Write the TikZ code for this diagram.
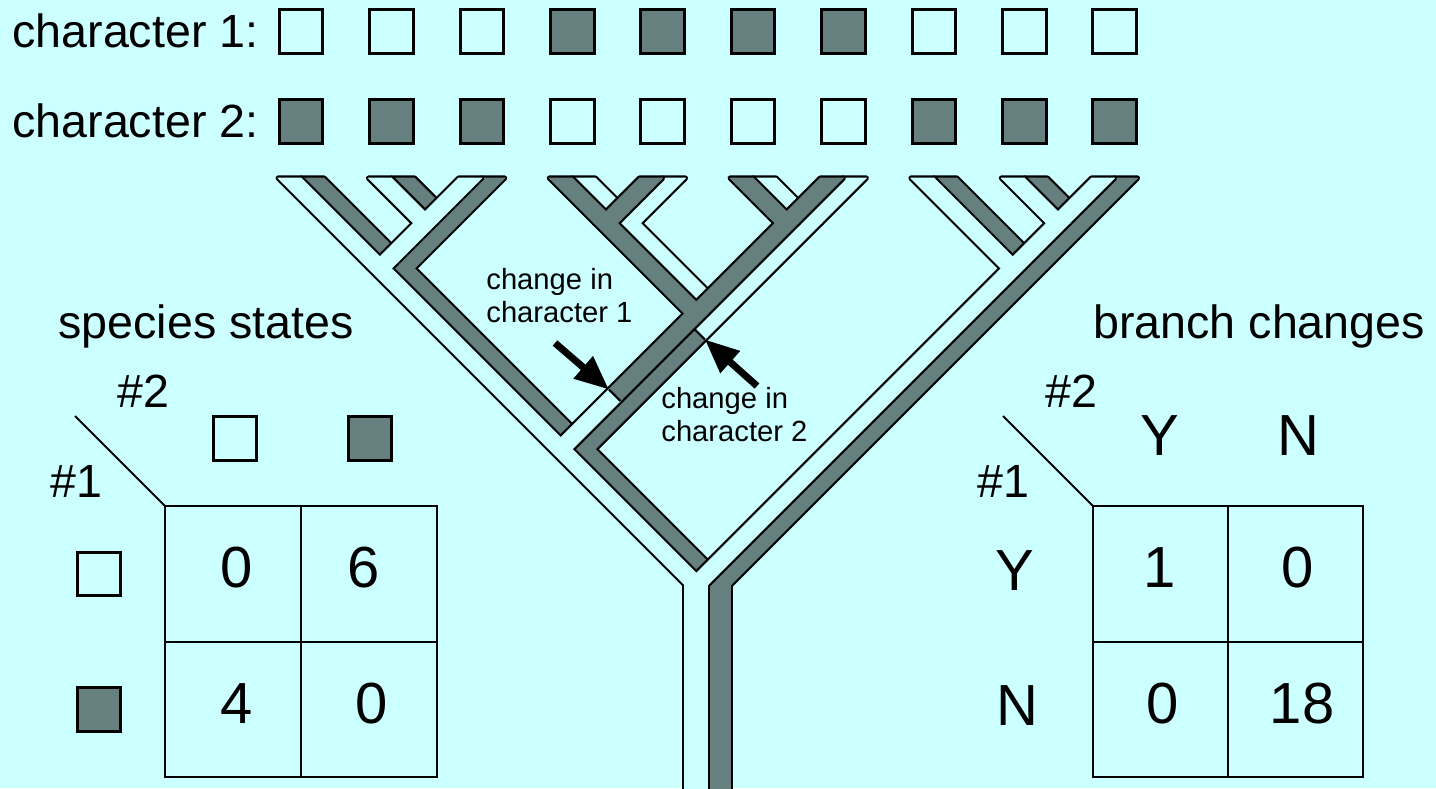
\documentclass[tikz,border=0pt]{standalone}
\usepackage{fontspec}
\setmainfont{Liberation Sans}
\usetikzlibrary{calc,arrows.meta}

\definecolor{paper}{HTML}{CCFFFF}
\definecolor{slate}{HTML}{668080}

% one branch: character 1 strip on the left, character 2 strip on the right
\newcommand\stripone[3]{\path[#3] ($(#1)+(-23,0)$) -- (#1) -- (#2) -- ($(#2)+(-23,0)$) -- cycle;}
\newcommand\striptwo[3]{\path[#3] (#1) -- ($(#1)+(23,0)$) -- ($(#2)+(23,0)$) -- (#2) -- cycle;}

\begin{document}
\begin{tikzpicture}[x=0.5pt,y=-0.5pt,
    every node/.style={inner sep=0pt},
    lab/.style={font=\fontsize{23.3}{28}\selectfont},
    num/.style={font=\fontsize{29}{34}\selectfont},
    note/.style={font=\fontsize{14.6}{16.5}\selectfont,align=left},
    rim/.style={draw,line width=2.6pt,line join=round},
    paint/.style={fill=#1,draw=#1,line width=0.4pt,line join=round},
    cut/.style={line width=1.1pt},
    grid/.style={line width=1pt},
    sqbox/.style={draw,line width=1.5pt,minimum size=21.8pt},
    change/.style={line width=3.5pt,-{Triangle[length=17pt,width=14pt]}}]
  \fill[paper] (0,0) rectangle (1436,788);
  \useasboundingbox (0,0) rectangle (1436,788);

  % species and their states
  \node[lab,anchor=base west] (char1) at (12,47) {character 1:};
  \node[lab,anchor=base west] (char2) at (12,137) {character 2:};
  \foreach \i/\one/\two in {1/paper/slate,2/paper/slate,3/paper/slate,4/slate/paper,5/slate/paper,
      6/slate/paper,7/slate/paper,8/paper/slate,9/paper/slate,10/paper/slate} {
    \node[sqbox,fill=\one] (top\i) at ({301+90.4*(\i-1)},31.5) {};
    \node[sqbox,fill=\two] (bot\i) at ({301+90.4*(\i-1)},121.5) {};
    \coordinate (L\i) at ({301+90.4*(\i-1)},178);
  }

  % tree
  \coordinate (J23) at (436.6,223.2);
  \coordinate (J1) at (391.4,268.4);
  \coordinate (J45) at (617.4,223.2);
  \coordinate (J67) at (798.2,223.2);
  \coordinate (M) at (707.8,313.6);
  \coordinate (Jlm) at (572.2,449.2);
  \coordinate (J910) at (1069.4,223.2);
  \coordinate (J8) at (1024.2,268.4);
  \coordinate (R) at (707.8,584.8);
  \coordinate (B) at (707.8,796);
  \coordinate (c2a) at (693.4,328);
  \coordinate (c2b) at (704.9,339.5);
  \coordinate (c1a) at (608.9,389.5);
  \coordinate (c1b) at (620.4,401);

  \def\branches{L1/J1/paper/slate,L2/J23/paper/slate,L3/J23/paper/slate,J23/J1/paper/slate,
    J1/Jlm/paper/slate,L4/J45/slate/paper,L5/J45/slate/paper,L6/J67/slate/paper,L7/J67/slate/paper,
    J45/M/slate/paper,J67/M/slate/paper,Jlm/R/paper/slate,L8/J8/paper/slate,L9/J910/paper/slate,
    L10/J910/paper/slate,J910/J8/paper/slate,J8/R/paper/slate,R/B/paper/slate}

  % character 2
  \foreach \src/\dst/\one/\two in \branches {\striptwo{\src}{\dst}{rim}}
  \path[rim] (M) -- ($(M)+(23,0)$) -- (c2b) -- (c2a) -- cycle;
  \path[rim] (c2a) -- (c2b) -- ($(Jlm)+(23,0)$) -- (Jlm) -- cycle;
  \foreach \src/\dst/\one/\two in \branches {\striptwo{\src}{\dst}{paint=\two}}
  \path[paint=paper] (M) -- ($(M)+(23,0)$) -- (c2b) -- (c2a) -- cycle;
  \path[paint=slate] (c2a) -- (c2b) -- ($(Jlm)+(23,0)$) -- (Jlm) -- cycle;
  \draw[cut] (c2a) -- (c2b);

  % character 1
  \foreach \src/\dst/\one/\two in \branches {\stripone{\src}{\dst}{rim}}
  \path[rim] ($(M)+(-23,0)$) -- (M) -- (c1b) -- (c1a) -- cycle;
  \path[rim] (c1a) -- (c1b) -- (Jlm) -- ($(Jlm)+(-23,0)$) -- cycle;
  \foreach \src/\dst/\one/\two in \branches {\stripone{\src}{\dst}{paint=\one}}
  \path[paint=slate] ($(M)+(-23,0)$) -- (M) -- (c1b) -- (c1a) -- cycle;
  \path[paint=paper] (c1a) -- (c1b) -- (Jlm) -- ($(Jlm)+(-23,0)$) -- cycle;
  \draw[cut] (c1a) -- (c1b);

  % the two changes
  \node[note,anchor=north west] (note1) at (486,268) {change in\\character 1};
  \node[note,anchor=north west] (note2) at (661,387) {change in\\character 2};
  \coordinate (tail1) at (555,343);
  \coordinate (tail2) at (757,386);
  \draw[change] (tail1) -- (c1a);
  \draw[change] (tail2) -- (c2b);

  % species states table
  \node[lab,anchor=base west] (states) at (58,338) {species states};
  \node[lab,anchor=base west] (lhash2) at (117,407) {\#2};
  \node[lab,anchor=base west] (lhash1) at (50,497) {\#1};
  \coordinate (ldiag) at (75,416);
  \coordinate (lcorner) at (165,506);
  \draw[grid] (ldiag) -- (lcorner);
  \draw[grid] (lcorner) rectangle (437,777);
  \draw[grid] (301,506) -- (301,777);
  \draw[grid] (165,642) -- (437,642);
  \node[sqbox,fill=paper] (lcol1) at (235,438.5) {};
  \node[sqbox,fill=slate] (lcol2) at (370,438.5) {};
  \node[sqbox,fill=paper] (lrow1) at (99,574) {};
  \node[sqbox,fill=slate] (lrow2) at (99,709.5) {};
  \node[num,anchor=base] (lc11) at (237,587) {0};
  \node[num,anchor=base] (lc12) at (364,587) {6};
  \node[num,anchor=base] (lc21) at (237,723) {4};
  \node[num,anchor=base] (lc22) at (372,723) {0};

  % branch changes table
  \node[lab,anchor=base west] (changes) at (1093,338) {branch changes};
  \node[lab,anchor=base west] (rhash2) at (1045,407) {\#2};
  \node[lab,anchor=base west] (rhash1) at (977,497) {\#1};
  \coordinate (rdiag) at (1003,416);
  \coordinate (rcorner) at (1093,506);
  \draw[grid] (rdiag) -- (rcorner);
  \draw[grid] (rcorner) rectangle (1363,777);
  \draw[grid] (1228,506) -- (1228,777);
  \draw[grid] (1093,642) -- (1363,642);
  \node[num,anchor=base] (rcol1) at (1160,455) {Y};
  \node[num,anchor=base] (rcol2) at (1298,455) {N};
  \node[num,anchor=base] (rrow1) at (1015,590) {Y};
  \node[num,anchor=base] (rrow2) at (1017,725) {N};
  \node[num,anchor=base] (rc11) at (1160,587) {1};
  \node[num,anchor=base] (rc12) at (1298,587) {0};
  \node[num,anchor=base] (rc21) at (1163,723) {0};
  \node[num,anchor=base] (rc22) at (1302,723) {18};
\end{tikzpicture}
\end{document}
